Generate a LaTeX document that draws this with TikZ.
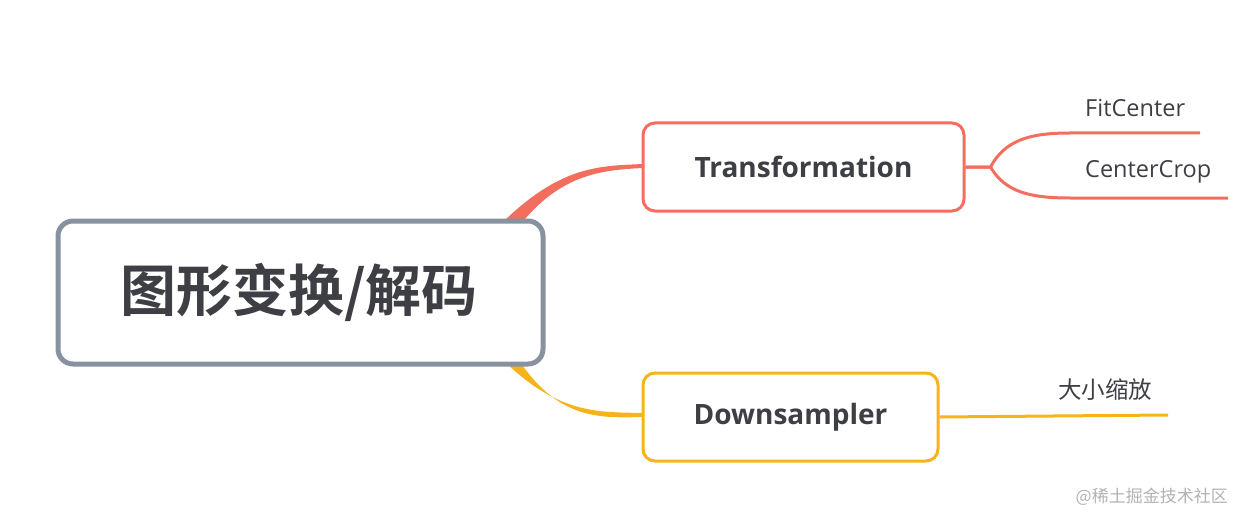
\documentclass[tikz,border=0pt]{standalone}
\usepackage{fontspec}
\setmainfont{Open Sans}
\newfontfamily\cjk{Noto Sans CJK SC}
\newfontfamily\cjkb{Noto Sans CJK SC Bold}
\definecolor{rootc}{HTML}{8891A0}
\definecolor{redc}{HTML}{F26E5E}
\definecolor{yelc}{HTML}{F6B418}
\definecolor{txt}{HTML}{3E3F45}
\tikzset{
  box/.style={draw, rounded corners=12pt, line width=3pt, fill=white, inner sep=0pt, text=txt, font=\bfseries\fontsize{28}{34}\selectfont},
  lbl/.style={anchor=west, text=txt, font=\fontsize{23.5}{26}\selectfont, inner sep=0pt},
}
\begin{document}
\begin{tikzpicture}[x=1pt,y=-1pt]
\useasboundingbox (0,0) rectangle (1242,524);
% tapered connectors
\fill[redc] (500,225) .. controls (560,165) and (600,166) .. (643,164) -- (643,168) .. controls (600,170) and (560,175) .. (520,225) -- cycle;
\fill[yelc] (505,362) .. controls (560,415) and (600,412) .. (643,413) -- (643,417) .. controls (600,418) and (560,420) .. (520,362) -- cycle;
\node[box, draw=rootc, line width=5pt, minimum width=485pt, minimum height=143pt, rounded corners=15pt] (root) at (300.5,292.5) {};
\node[text=txt, font=\cjkb\fontsize{56}{60}\selectfont] (rt) at (299,292) {图形变换/解码};
\node[box, draw=redc, minimum width=321pt, minimum height=88pt] (tr) at (803.5,167) {Transformation};
\node[box, draw=yelc, minimum width=295pt, minimum height=88pt] (ds) at (790.5,417) {Downsampler};
\coordinate (f1) at (1070,133);
\coordinate (f2) at (1200,133);
\coordinate (c1) at (1070,198);
\coordinate (c2) at (1228,198);
\coordinate (d2) at (1168,415);
\draw[redc, line width=3pt] (tr.east) -- ++(25,0) .. controls (1005,140) and (1030,133) .. (f1) -- (f2);
\draw[redc, line width=3pt] (tr.east) -- ++(25,0) .. controls (1005,192) and (1030,198) .. (c1) -- (c2);
\draw[yelc, line width=3pt] (ds.east) -- (d2);
\node[lbl] (fc) at (1085,108) {FitCenter};
\node[lbl] (cc) at (1085,172) {CenterCrop};
\node[lbl, font=\cjk\fontsize{23.5}{26}\selectfont] (dx) at (1058,390) {大小缩放};
\node[anchor=east, text=black!30, font=\cjk\fontsize{17}{20}\selectfont, inner sep=0pt] (wm) at (1228,497) {@稀土掘金技术社区};
\end{tikzpicture}
\end{document}
